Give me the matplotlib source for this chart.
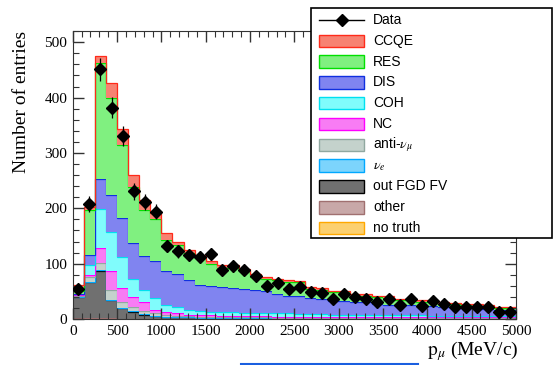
import numpy as np
import matplotlib.pyplot as plt
from matplotlib.patches import Rectangle
from matplotlib.lines import Line2D
from matplotlib.ticker import MultipleLocator

plt.rcParams['mathtext.fontset'] = 'stix'

# muon momentum bins (MeV/c)
bin_edges = np.arange(0, 5001, 125)

data = [55, 208, 451, 382, 330, 231, 211, 194, 132, 122, 116, 112, 117, 89, 95, 89, 78, 60, 65, 54,
        57, 49, 47, 37, 45, 39, 37, 30, 37, 26, 36, 23, 33, 28, 22, 21, 22, 21, 13, 13]

# MC components, listed bottom of the stack first
no_truth = [1, 1, 1, 0.5, 0.3, 0.2] + [0] * 34
other = [0.5, 0.5, 0.5, 0.5, 0.3, 0.3, 0.2, 0.2] + [0.1] * 32
out_fgd = [37.5, 64.5, 85.5, 33, 18.4, 12.5, 7.8, 4.8, 3.9, 2.9, 2.9, 1.9, 1.9, 1.9, 1.9, 1.9, 1.9, 1.9] + [0.9] * 22
nu_e = [1.0, 1.2, 1.5, 1.2, 1.0, 0.8, 0.6, 0.5, 0.4, 0.4] + [0.3] * 30
anti_numu = [2, 8, 12.5, 17, 11, 7, 5.5, 4.5, 2.6, 2.6, 1.7, 1.7, 1.7, 0.8, 0.8, 0.8, 0.8, 0.8,
             1.2, 1.2, 1.2, 1.2] + [0.7] * 18
nc = [2, 5, 27, 34, 25, 19, 16, 7, 6, 4, 3, 3, 3, 3, 3, 2, 2, 2, 2, 2,
      1.5, 1.5, 2, 2, 2, 1.5, 1.5, 1.5, 1.5, 1.5, 1, 1, 1, 1, 1, 1, 1, 1, 1, 1]
coh = [1, 18, 70, 71, 56, 32, 23, 21, 12, 11, 9, 7, 6, 6, 6, 6, 6, 5, 5.5, 5.5,
       5, 5, 5, 4, 4, 4.5, 4.5, 3.5, 3.5, 3.5, 4, 4, 3, 3, 3, 3, 3, 3, 2, 2]
dis = [1, 18, 55, 66, 70, 65, 61, 66, 61, 61, 54, 48, 47, 45, 44, 43, 42, 40, 36, 32,
       32, 29, 28, 25, 24, 23, 22, 20, 19, 18, 18, 17, 17, 16, 16, 15, 12, 12, 12, 12]
res = [4, 81, 210, 176, 133, 102, 83, 76, 57, 52, 48, 48, 39, 35, 36, 33, 23, 22, 24, 25,
       25, 16, 16, 15, 16, 11, 12, 12, 12, 9, 9, 7, 8, 5, 5, 4, 6, 5, 2, 2]
ccqe = [11, 6, 13, 28, 28, 21, 18, 12, 12, 6, 6, 6, 5, 5, 5, 4, 5, 4, 3, 3,
        3, 3, 3, 3, 3, 3, 3, 3, 3, 3, 3, 3, 3, 3, 2, 2, 3, 2, 2, 2]

components = [
    ('no truth', no_truth, '#fcd070', '#ffa800'),
    ('other', other, '#c8a8a8', '#a07070'),
    ('out FGD FV', out_fgd, '#707070', '#000000'),
    (r'$\nu_{e}$', nu_e, '#7cd4fc', '#00a8ff'),
    (r'anti-$\nu_{\mu}$', anti_numu, '#c4d2cc', '#90a8a0'),
    ('NC', nc, '#f87cf4', '#ff00ff'),
    ('COH', coh, '#80fcfc', '#00e0f0'),
    ('DIS', dis, '#8084f0', '#1030e0'),
    ('RES', res, '#80f080', '#00e000'),
    ('CCQE', ccqe, '#f78272', '#ff2a1a'),
]

fig = plt.figure(figsize=(5.53, 3.65), dpi=100)
ax = fig.add_axes([0.1315, 0.126, 0.8015, 0.79])

base = np.zeros(len(data))
for name, vals, fc, ec in components:
    top = base + np.array(vals, dtype=float)
    ax.stairs(top, bin_edges, baseline=base, fill=True, facecolor=fc, edgecolor='none')
    ax.stairs(top, bin_edges, baseline=None, color=ec, lw=0.9)
    base = top

centers = 0.5 * (bin_edges[:-1] + bin_edges[1:])
ax.errorbar(centers, data, yerr=np.sqrt(data), xerr=62.5, fmt='D', color='k',
            ms=5.8, elinewidth=0.9, capsize=0, zorder=5)

ax.set_xlim(0, 5000)
ax.set_ylim(0, 521)
ax.xaxis.set_major_locator(MultipleLocator(500))
ax.xaxis.set_minor_locator(MultipleLocator(100))
ax.yaxis.set_major_locator(MultipleLocator(100))
ax.yaxis.set_minor_locator(MultipleLocator(20))
ax.tick_params(which='both', direction='in', top=True, right=True, color='#333333')
ax.tick_params(which='major', length=8, width=1, pad=4)
ax.tick_params(which='minor', length=4, width=0.8)
for lab in ax.get_xticklabels() + ax.get_yticklabels():
    lab.set_family('Liberation Serif')
    lab.set_fontsize(11)
for sp in ax.spines.values():
    sp.set_color('#333333')

# overlay in pixel coordinates for labels, legend and the link underline
ov = fig.add_axes([0, 0, 1, 1])
ov.set_xlim(0, 553)
ov.set_ylim(365, 0)
ov.axis('off')

ov.text(21.5, 102, 'Number of entries', rotation=90, ha='center', va='center',
        family='Liberation Serif', fontsize=14)
ov.text(518, 351, r'$\mathrm{p}_{\mu}$ (MeV/c)', ha='right', va='center',
        family='Liberation Serif', fontsize=14)

ov.add_patch(Rectangle((310.5, 7.5), 241, 230.5, facecolor='white', edgecolor='black', lw=1.2))
rows = ['Data'] + [c[0] for c in components[::-1]]
for i, name in enumerate(rows):
    yc = 20 + 20.8 * i
    if i == 0:
        ov.add_line(Line2D([319, 364], [yc, yc], color='k', lw=1))
        ov.plot([341.5], [yc], marker='D', color='k', ms=5.8)
    else:
        fc, ec = components[::-1][i - 1][2:]
        ov.add_patch(Rectangle((319, yc - 6.3), 45, 12.6, facecolor=fc, edgecolor=ec, lw=1))
    ov.text(373, yc, name, ha='left', va='center', family='Liberation Sans', fontsize=10)

ov.add_line(Line2D([241, 418], [363.5, 363.5], color='#1a5fe0', lw=1.5))

fig.savefig('out.png', dpi=100)
